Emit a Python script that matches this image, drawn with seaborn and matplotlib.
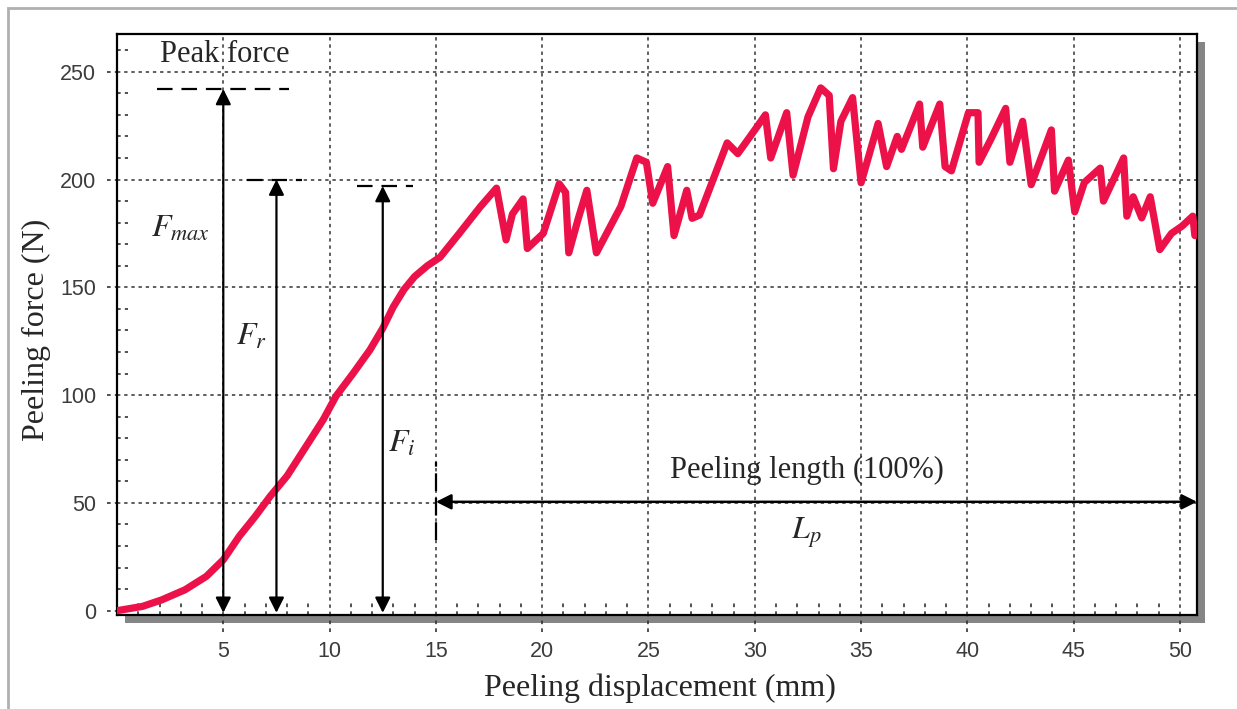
import numpy as np
import pandas as pd
import seaborn as sns
import matplotlib
matplotlib.use("Agg")
import matplotlib.pyplot as plt
from matplotlib.patches import Rectangle
from matplotlib.transforms import blended_transform_factory

# ---------------- data ----------------
displacement = [0.0, 1.2, 2.1, 3.2, 4.2, 5.0, 5.75, 6.5, 7.2, 8.0, 8.9, 9.7, 10.3, 11.1,
                11.9, 12.5, 13.0, 13.5, 14.0, 14.6, 15.2, 16.1, 17.1, 17.85,
                18.3, 18.6, 19.1, 19.3, 20.05, 20.8, 21.1, 21.25, 21.7, 22.1, 22.55,
                23.7, 24.45, 24.9, 25.2, 25.9, 26.2, 26.8, 27.05, 27.4, 28.7, 29.2,
                30.0, 30.5, 30.75, 31.5, 31.8, 32.5, 33.1, 33.5, 33.7, 34.05, 34.6,
                35.0, 35.8, 36.2, 36.7, 36.9, 37.75, 37.9, 38.7, 38.95, 39.25, 40.05,
                40.5, 40.55, 41.1, 41.8, 42.0, 42.6, 43.0, 43.95, 44.1, 44.75, 45.05,
                45.5, 46.25, 46.4, 47.35, 47.5, 47.8, 48.2, 48.6, 49.05, 49.6, 50.1,
                50.6, 50.7]
force = [0, 2, 5, 9.7, 15.9, 23.6, 34.5, 43.7, 53, 62.5, 76.3, 88.6, 99.5, 110,
         121, 131, 141, 149, 155, 160, 164, 175, 187.5, 196,
         172, 184, 191, 168, 175, 198, 194, 166, 182, 195, 166,
         187.5, 210, 208, 189, 206, 174, 195, 182, 183.5, 217, 212,
         223, 230, 210, 231, 202, 229, 242.5, 239, 205, 227, 238,
         198.5, 226, 206, 220, 214, 235, 215, 235, 206, 204, 231,
         231, 208, 218.6, 233, 208, 227, 197.6, 223, 194.6, 209, 185,
         198.6, 205.3, 190, 210, 183, 192, 182.2, 192, 167.5, 175, 178.4,
         183, 174]

x_ticks = [5, 10, 15, 20, 25, 30, 35, 40, 45, 50]
y_ticks = [0, 50, 100, 150, 200, 250]

# annotation values
force_levels = [242, 200, 197]          # F_max, F_r, F_i
force_positions = [5, 7.5, 12.5]        # x of the vertical arrows
level_spans = [(1.9, 8.1), (6.1, 8.7), (11.3, 13.9)]
peel_start, peel_end, peel_y = 15, 50.8, 50.5

df = pd.DataFrame({"disp": displacement, "force": force})

# ---------------- figure ----------------
W, H = 1237, 709
sns.set_theme(style="white")
plt.rcParams["font.family"] = ["Liberation Serif", "DejaVu Serif"]
plt.rcParams["mathtext.fontset"] = "stix"

fig = plt.figure(figsize=(W / 100, H / 100), dpi=100)
ax_l, ax_r, ax_t, ax_b = 117, 1197, 34, 615
ax = fig.add_axes([ax_l / W, 1 - ax_b / H, (ax_r - ax_l) / W, (ax_b - ax_t) / H])

# shadow behind axes & page border
fig.add_artist(Rectangle(((ax_l + 8) / W, 1 - (ax_b + 8) / H), (ax_r - ax_l) / W,
                         (ax_b - ax_t) / H, transform=fig.transFigure,
                         facecolor="#858585", edgecolor="none", zorder=-1))
fig.add_artist(Rectangle((8 / W, -0.1), 2, 1.1 - 8 / H, transform=fig.transFigure,
                         fill=False, edgecolor="#b0b0b0", lw=2, zorder=-2))

sns.lineplot(data=df, x="disp", y="force", ax=ax, color="#EC1249", linewidth=5.2,
             estimator=None, sort=False, zorder=3)

ax.set_xlim(0, 50.8)
ax.set_ylim(-2, 267.5)
ax.set_xticks(x_ticks)
ax.set_yticks(y_ticks)
ax.tick_params(axis="both", length=0, labelsize=15.5, labelcolor="#3c3c3c")
ax.tick_params(axis="x", pad=19)
ax.tick_params(axis="y", pad=15)
for lab in ax.get_xticklabels() + ax.get_yticklabels():
    lab.set_family(["Liberation Sans", "DejaVu Sans"])

ax.grid(True, which="major", color="#333333", linestyle=(0, (2.2, 2.5)), linewidth=1.1)
ax.yaxis.get_major_ticks()[0].gridline.set_visible(False)
for s in ax.spines.values():
    s.set_color("black")
    s.set_linewidth(1.6)
    s.set_visible(True)

# dotted tick marks (minor inside, major extended outside)
tx = blended_transform_factory(ax.transData, ax.transAxes)
ty = blended_transform_factory(ax.transAxes, ax.transData)
minor_x = [v for v in range(1, 51) if v % 5 != 0]
minor_y = [v for v in range(10, 261, 10) if v % 50 != 0]
dot = dict(color="#333333", linestyle=(0, (2.2, 2.5)), linewidth=1.2)
ax.vlines(minor_x, 0, 12 / (ax_b - ax_t), transform=tx, **dot)
ax.vlines(x_ticks, -17 / (ax_b - ax_t), 0, transform=tx, clip_on=False, **dot)
ax.hlines(minor_y, 0, 11 / (ax_r - ax_l), transform=ty, **dot)
ax.hlines(y_ticks, -10 / (ax_r - ax_l), 0, transform=ty, clip_on=False, **dot)

ax.set_xlabel("Peeling displacement (mm)", fontsize=23)
ax.set_ylabel("Peeling force (N)", fontsize=23)
ax.xaxis.set_label_coords(0.503, -0.101)
ax.yaxis.set_label_coords(-0.061, 0.49)

# ---------------- annotations ----------------
for xpos, lvl, (xa, xb) in zip(force_positions, force_levels, level_spans):
    ax.plot([xa, xb], [lvl, lvl], color="black", lw=1.6, linestyle=(0, (7, 4)), zorder=4)
    ax.annotate("", xy=(xpos, lvl), xytext=(xpos, -1),
                arrowprops=dict(arrowstyle="<|-|>", color="black", lw=1.6,
                                mutation_scale=23, shrinkA=0, shrinkB=0), zorder=5)

ax.text(2.0, 254.3, "Peak force", fontsize=22, ha="left", va="baseline", zorder=6)
ax.text(1.6, 177, r"$F_{max}$", fontsize=23, ha="left", va="center")
ax.text(5.6, 127, r"$F_{r}$", fontsize=23, ha="left", va="center")
ax.text(12.75, 77, r"$F_{i}$", fontsize=23, ha="left", va="center")

ax.plot([peel_start, peel_start], [33, 69], color="black", lw=1.6,
        linestyle=(0, (8, 3)), zorder=4)
ax.annotate("", xy=(peel_end, peel_y), xytext=(peel_start, peel_y),
            arrowprops=dict(arrowstyle="<|-|>", color="black", lw=1.8,
                            mutation_scale=23, shrinkA=0, shrinkB=0))
ax.text(32.46, 61.7, "Peeling length (100%)", fontsize=22, ha="center", va="baseline")
ax.text(32.4, 36, r"$L_{p}$", fontsize=23, ha="center", va="center")

fig.savefig("out.png", dpi=100)
